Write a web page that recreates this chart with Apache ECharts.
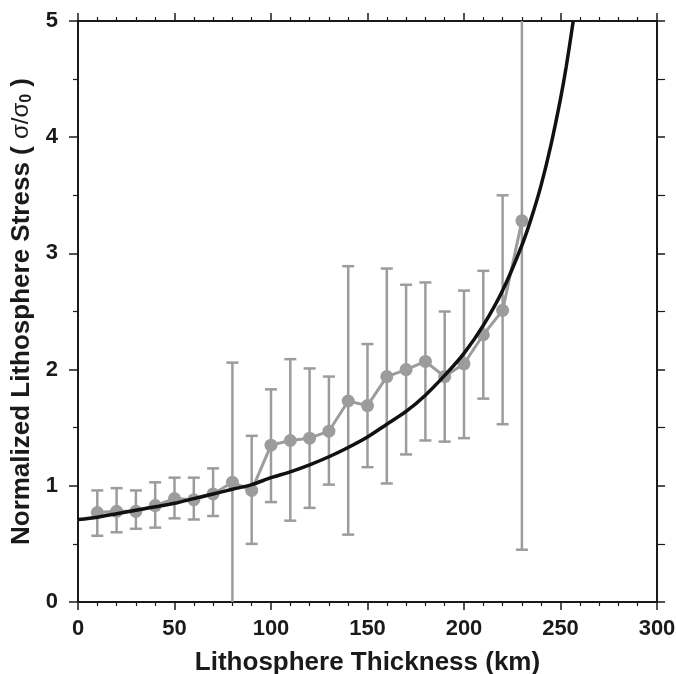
<!DOCTYPE html>
<html>
<head>
<meta charset="utf-8">
<script src="https://cdn.jsdelivr.net/npm/echarts@6/dist/echarts.min.js"></script>
<style>
html,body{margin:0;padding:0;background:#fff;}
#chart{width:676px;height:674px;}
</style>
</head>
<body>
<div id="chart"></div>
<script>
// Observed data: thickness (km), mean normalized stress, error bar bounds
const thickness = [10,20,30,40,50,60,70,80,90,100,110,120,130,140,150,160,170,180,190,200,210,220,230];
const meanStress = [0.77,0.78,0.78,0.83,0.89,0.88,0.93,1.03,0.96,1.35,1.39,1.41,1.47,1.73,1.69,1.94,2.00,2.07,1.94,2.05,2.30,2.51,3.28];
const upperStress = [0.96,0.98,0.96,1.03,1.07,1.07,1.15,2.06,1.43,1.83,2.09,2.01,1.94,2.89,2.22,2.87,2.73,2.75,2.50,2.68,2.85,3.50,5.30];
const lowerStress = [0.57,0.60,0.63,0.64,0.72,0.71,0.74,-0.30,0.50,0.86,0.70,0.81,1.01,0.58,1.16,1.02,1.27,1.39,1.38,1.41,1.75,1.53,0.45];

// Model curve
const modelThickness = [0,10,20,30,40,50,60,70,80,90,100,110,120,130,140,150,160,170,180,190,200,210,220,230,235,240,245,250,253,256.6];
const modelStress = [0.71,0.73,0.76,0.79,0.82,0.85,0.89,0.93,0.97,1.01,1.07,1.12,1.18,1.25,1.33,1.42,1.53,1.64,1.78,1.95,2.14,2.38,2.68,3.07,3.31,3.59,3.93,4.33,4.61,5.0];

// Axis ticks
const xTicks = {min:0, max:300, interval:50};
const yTicks = {min:0, max:5, interval:1};

const grey = '#9c9c9e';
const axisColor = '#1a1a1a';
const fontFam = '"Liberation Sans", Arial, Helvetica, sans-serif';

const chart = echarts.init(document.getElementById('chart'), null, {renderer:'canvas'});

const errData = thickness.map((t,i)=>[t, lowerStress[i], upperStress[i]]);
const meanData = thickness.map((t,i)=>[t, meanStress[i]]);
const modelData = modelThickness.map((t,i)=>[t, modelStress[i]]);

function baseAxisLine(){ return {show:true, onZero:false, lineStyle:{color:axisColor, width:2}}; }

const option = {
  animation:false,
  backgroundColor:'#fff',
  grid:{left:78, right:19, top:21, bottom:72, containLabel:false, outerBoundsMode:'none'},
  xAxis:[{
    type:'value', min:xTicks.min, max:xTicks.max, interval:xTicks.interval,
    position:'bottom',
    axisLine:baseAxisLine(),
    axisTick:{show:true, length:8, lineStyle:{color:axisColor, width:1.5}},
    minorTick:{show:true, splitNumber:5, length:4, lineStyle:{color:axisColor, width:1.2}},
    splitLine:{show:false},
    axisLabel:{fontSize:22, fontWeight:'bold', color:'#1a1a1a', fontFamily:fontFam, margin:16},
    name:'Lithosphere Thickness (km)', nameLocation:'middle', nameGap:48,
    nameTextStyle:{fontSize:26, fontWeight:'bold', color:'#1a1a1a', fontFamily:fontFam}
  },{
    type:'value', min:xTicks.min, max:xTicks.max, interval:xTicks.interval,
    position:'top',
    axisLine:baseAxisLine(),
    axisTick:{show:true, length:8, lineStyle:{color:axisColor, width:1.5}},
    minorTick:{show:true, splitNumber:5, length:4, lineStyle:{color:axisColor, width:1.2}},
    splitLine:{show:false},
    axisLabel:{show:false}
  }],
  yAxis:[{
    type:'value', min:yTicks.min, max:yTicks.max, interval:yTicks.interval,
    position:'left',
    axisLine:baseAxisLine(),
    axisTick:{show:true, length:9, lineStyle:{color:axisColor, width:1.5}},
    minorTick:{show:true, splitNumber:2, length:5, lineStyle:{color:axisColor, width:1.2}},
    splitLine:{show:false},
    axisLabel:{fontSize:22, fontWeight:'bold', color:'#1a1a1a', fontFamily:fontFam, margin:20},
    name:'{b|Normalized Lithosphere Stress ( }{s|σ/σ}{sub|0}{b| )}',
    nameLocation:'middle', nameGap:42, nameRotate:90,
    nameTextStyle:{
      color:'#1a1a1a', fontFamily:fontFam,
      rich:{
        b:{fontSize:26, fontWeight:'bold', color:'#1a1a1a', fontFamily:fontFam},
        s:{fontSize:24, fontWeight:'normal', color:'#1a1a1a', fontFamily:fontFam},
        sub:{fontSize:16, fontWeight:'bold', color:'#1a1a1a', fontFamily:fontFam, verticalAlign:'bottom', padding:[10,0,0,0]}
      }
    }
  },{
    type:'value', min:yTicks.min, max:yTicks.max, interval:yTicks.interval,
    position:'right',
    axisLine:baseAxisLine(),
    axisTick:{show:true, length:8, lineStyle:{color:axisColor, width:1.5}},
    minorTick:{show:true, splitNumber:2, length:8, lineStyle:{color:axisColor, width:1.2}},
    splitLine:{show:false},
    axisLabel:{show:false}
  }],
  series:[
    {
      type:'custom', name:'error', xAxisIndex:0, yAxisIndex:0, clip:true, z:2,
      data:errData,
      renderItem:function(params, api){
        const x = api.value(0), lo = api.value(1), hi = api.value(2);
        const pLo = api.coord([x, lo]);
        const pHi = api.coord([x, hi]);
        const hw = 6;
        const st = {stroke:grey, lineWidth:2.5};
        return {type:'group', children:[
          {type:'line', shape:{x1:pLo[0], y1:pLo[1], x2:pHi[0], y2:pHi[1]}, style:st},
          {type:'line', shape:{x1:pLo[0]-hw, y1:pLo[1], x2:pLo[0]+hw, y2:pLo[1]}, style:st},
          {type:'line', shape:{x1:pHi[0]-hw, y1:pHi[1], x2:pHi[0]+hw, y2:pHi[1]}, style:st}
        ]};
      }
    },
    {
      type:'line', name:'mean', xAxisIndex:0, yAxisIndex:0, z:3,
      data:meanData, symbol:'circle', symbolSize:13, showSymbol:true,
      lineStyle:{color:grey, width:3},
      itemStyle:{color:grey}
    },
    {
      type:'line', name:'model', xAxisIndex:0, yAxisIndex:0, z:4,
      data:modelData, symbol:'none', smooth:0.3,
      lineStyle:{color:'#111', width:3.5}
    }
  ]
};
chart.setOption(option);
</script>
</body>
</html>
